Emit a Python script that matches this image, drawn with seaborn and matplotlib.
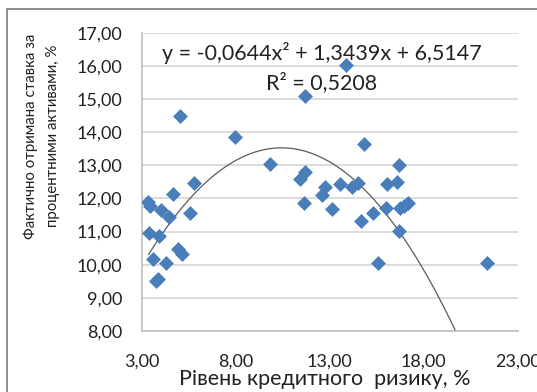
import numpy as np
import pandas as pd
import matplotlib
matplotlib.use("Agg")
import matplotlib.pyplot as plt
import seaborn as sns
from matplotlib.patches import Rectangle
from matplotlib.ticker import FixedLocator, FuncFormatter

# --- data ---
risk = [3.36, 3.44, 3.41, 3.62, 3.78, 3.85, 3.94, 4.02, 4.30, 4.43, 4.69, 4.91,
        5.05, 5.14, 5.55, 5.77, 7.94, 9.84, 11.44, 11.62, 11.66, 11.66, 12.59,
        12.73, 13.12, 13.53, 13.89, 14.16, 14.52, 14.66, 14.84, 15.32, 15.55,
        15.99, 16.03, 16.57, 16.69, 16.70, 16.72, 16.95, 17.15, 21.39]
rate = [11.90, 11.77, 10.97, 10.16, 9.50, 9.58, 10.87, 11.65, 10.06, 11.43, 12.14,
        10.47, 14.48, 10.32, 11.57, 12.46, 13.84, 13.03, 12.58, 11.87, 12.81,
        15.08, 12.11, 12.34, 11.67, 12.44, 16.02, 12.34, 12.46, 11.33, 13.64,
        11.57, 10.04, 11.70, 12.44, 12.51, 13.02, 11.03, 11.70, 11.78, 11.87, 10.04]
# polynomial trendline coefficients shown on the chart (x², x, const)
trend_coef = [-0.0644, 1.3439, 6.5147]
x_ticks = [3, 8, 13, 18, 23]
y_ticks = [8, 9, 10, 11, 12, 13, 14, 15, 16, 17]
equation = "y = -0,0644x² + 1,3439x + 6,5147"
r2_text = "R² = 0,5208"
x_label = "Рівень кредитного  ризику, %"
y_label = "Фактично отримана ставка за\nпроцентними активами, %"

df = pd.DataFrame({"risk": risk, "rate": rate})
tx = np.linspace(min(risk), max(risk), 300)
trend = pd.DataFrame({"risk": tx, "rate": np.polyval(trend_coef, tx)})

sns.set_style("white")
plt.rcParams["font.family"] = ["Lato", "DejaVu Sans"]

W, H = 537, 392
fig = plt.figure(figsize=(W / 100, H / 100), dpi=100)
ax = fig.add_axes([141.7 / W, 1 - 331 / H, (517.7 - 141.7) / W, (331 - 32.7) / H])

sns.lineplot(data=trend, x="risk", y="rate", color="#5a5a5a", lw=0.9, ax=ax)
sns.scatterplot(data=df, x="risk", y="rate", marker="D", s=50, color="#4a7ebb",
                edgecolor="#4a7ebb", linewidth=0.5, ax=ax, zorder=3)

ax.set_xlim(3, 23)
ax.set_ylim(8, 17)
ax.xaxis.set_major_locator(FixedLocator(x_ticks))
ax.yaxis.set_major_locator(FixedLocator(y_ticks))
fmt = FuncFormatter(lambda v, p: f"{v:.2f}".replace(".", ","))
ax.xaxis.set_major_formatter(fmt)
ax.yaxis.set_major_formatter(fmt)
ax.tick_params(axis="both", length=0, labelsize=13, colors="#222222")
ax.tick_params(axis="x", pad=16)
ax.tick_params(axis="y", pad=14)
ax.grid(axis="y", color="#d9d9d9", lw=1.3)
ax.grid(axis="x", visible=False)
ax.set_axisbelow(True)
for s in ["top", "right"]:
    ax.spines[s].set_visible(False)
for s in ["left", "bottom"]:
    ax.spines[s].set_color("#bfbfbf")
    ax.spines[s].set_linewidth(1.2)
ax.set_xlabel("")
ax.set_ylabel("")

fig.text(325 / W, 1 - 379 / H, x_label, ha="center", va="center",
         fontsize=15.5, color="#222222")
fig.text(41.5 / W, 1 - 136 / H, y_label, ha="center", va="center", rotation=90,
         multialignment="center", fontsize=10.8, color="#222222", linespacing=1.75)
fig.text(322 / W, 1 - 53 / H, equation, ha="center", va="center",
         fontsize=15.5, color="#222222")
fig.text(322 / W, 1 - 83 / H, r2_text, ha="center", va="center",
         fontsize=15.5, color="#222222")

fig.patches.append(Rectangle((7 / W, -0.1), 1.2, 1 - 9.5 / H + 0.1,
                             transform=fig.transFigure, fill=False,
                             edgecolor="#8c8c8c", lw=1.4))

fig.savefig("out.png", dpi=100)
